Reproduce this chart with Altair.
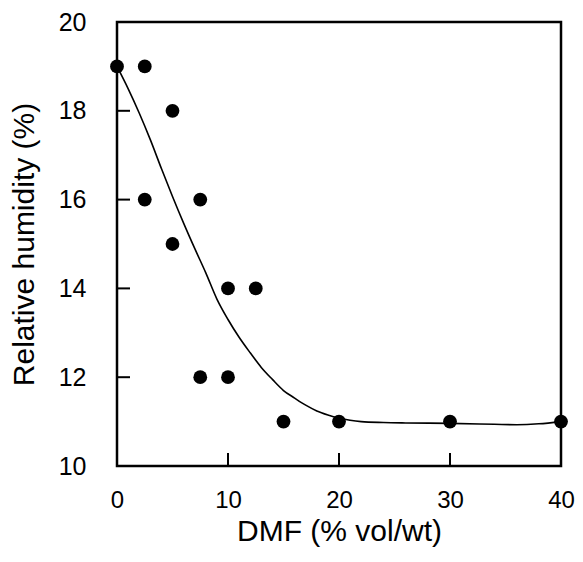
import altair as alt
import pandas as pd

# measured points
dmf = [0, 2.5, 2.5, 5, 5, 7.5, 7.5, 10, 10, 12.5, 15, 20, 30, 40]
rh = [19, 19, 16, 18, 15, 16, 12, 14, 12, 14, 11, 11, 11, 11]

# fitted curve
curve_x = [0, 1, 2, 3, 4, 5, 6, 7, 8, 9, 10, 11, 12, 13, 14, 15, 16, 17, 18, 19,
           20, 21, 22, 24, 26, 30, 34, 36, 38, 40]
curve_y = [19.0, 18.5, 17.95, 17.35, 16.7, 16.07, 15.47, 14.9, 14.35, 13.76, 13.3,
           12.9, 12.55, 12.22, 11.95, 11.7, 11.53, 11.37, 11.24, 11.15, 11.08, 11.03,
           11.0, 10.98, 10.97, 10.96, 10.94, 10.93, 10.95, 11.0]

x_ticks = [10, 20, 30]
y_ticks = [12, 14, 16, 18]

W, H = 444, 444
FONT = "Liberation Sans"

pts = pd.DataFrame({"x": dmf, "y": rh})
crv = pd.DataFrame({"x": curve_x, "y": curve_y})
xt = pd.DataFrame({"v": x_ticks})
yt = pd.DataFrame({"v": y_ticks})

xscale = alt.Scale(domain=[0, 40], nice=False, zero=False)
yscale = alt.Scale(domain=[10, 20], nice=False, zero=False)

xaxis = alt.Axis(values=[0, 10, 20, 30, 40], ticks=False, tickSize=0, domain=False, grid=False,
                 labelFlush=False,
                 labelFontSize=24, labelFont=FONT, labelColor="black", labelPadding=22,
                 title="DMF (% vol/wt)", titleFontSize=30, titleFont=FONT,
                 titleFontWeight="normal", titleColor="black", titlePadding=4)
yaxis = alt.Axis(values=[10, 12, 14, 16, 18, 20], ticks=False, tickSize=0, domain=False, grid=False,
                 labelFlush=False,
                 labelFontSize=25, labelFont=FONT, labelColor="black", labelPadding=31,
                 title="Relative humidity (%)", titleFontSize=30, titleFont=FONT,
                 titleFontWeight="normal", titleColor="black", titlePadding=19)

line = alt.Chart(crv).mark_line(color="black", strokeWidth=1.6, interpolate="monotone").encode(
    x=alt.X("x:Q", scale=xscale, axis=xaxis),
    y=alt.Y("y:Q", scale=yscale, axis=yaxis),
)

dots = alt.Chart(pts).mark_circle(color="black", opacity=1, size=190).encode(
    x=alt.X("x:Q", scale=xscale),
    y=alt.Y("y:Q", scale=yscale),
)

xtick = alt.Chart(xt).mark_rule(color="black", strokeWidth=2).encode(
    x=alt.X("v:Q", scale=xscale),
    y=alt.value(H), y2=alt.value(H - 13),
)
ytick = alt.Chart(yt).mark_rule(color="black", strokeWidth=2).encode(
    y=alt.Y("v:Q", scale=yscale),
    x=alt.value(0), x2=alt.value(13),
)

chart = alt.layer(line, xtick, ytick, dots).properties(
    width=W, height=H,
    background="white",
    autosize=alt.AutoSizeParams(type="none"),
    padding={"left": 109, "top": 14, "right": 14, "bottom": 88},
).configure_view(stroke="black", strokeWidth=2.5)

chart.save("out.html", embed_options={"renderer": "svg", "actions": False})
